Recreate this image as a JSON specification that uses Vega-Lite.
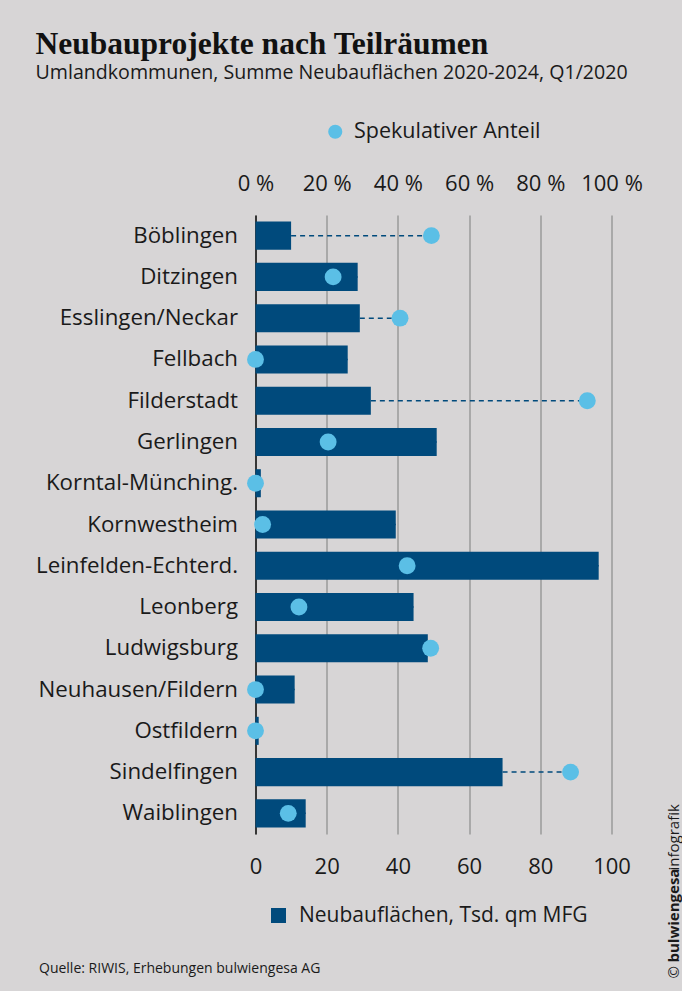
{
  "$schema": "https://vega.github.io/schema/vega-lite/v6.json",
  "background": "#d7d5d6",
  "padding": {"left": 35.5, "top": 28, "right": 0, "bottom": 13},
  "width": 356,
  "height": 619,
  "title": {
    "text": "Neubauprojekte nach Teilräumen",
    "subtitle": "Umlandkommunen, Summe Neubauflächen 2020-2024, Q1/2020",
    "anchor": "start",
    "frame": "bounds",
    "font": "Liberation Serif",
    "fontSize": 31.5,
    "fontWeight": "bold",
    "color": "#111111",
    "subtitleFont": "Open Sans",
    "subtitleFontSize": 19.6,
    "subtitleColor": "#1a1a1a",
    "subtitlePadding": 4,
    "offset": 38
  },
  "data": {
    "values": [
      {"name": "Böblingen", "area": 10.0, "spec": 49.4},
      {"name": "Ditzingen", "area": 28.7, "spec": 21.8},
      {"name": "Esslingen/Neckar", "area": 29.3, "spec": 40.6},
      {"name": "Fellbach", "area": 25.9, "spec": 0},
      {"name": "Filderstadt", "area": 32.4, "spec": 93.2},
      {"name": "Gerlingen", "area": 50.9, "spec": 20.4},
      {"name": "Korntal-Münching.", "area": 1.5, "spec": 0},
      {"name": "Kornwestheim", "area": 39.4, "spec": 2.0},
      {"name": "Leinfelden-Echterd.", "area": 96.4, "spec": 42.6},
      {"name": "Leonberg", "area": 44.4, "spec": 12.2},
      {"name": "Ludwigsburg", "area": 48.4, "spec": 49.2},
      {"name": "Neuhausen/Fildern", "area": 11.0, "spec": 0},
      {"name": "Ostfildern", "area": 0.9, "spec": 0},
      {"name": "Sindelfingen", "area": 69.4, "spec": 88.5},
      {"name": "Waiblingen", "area": 14.1, "spec": 9.2}
    ]
  },
  "layer": [
    {
      "mark": {"type": "rule", "strokeDash": [5, 4], "strokeWidth": 1.5, "color": "#004a7c"},
      "encoding": {
        "y": {
          "field": "name", "type": "nominal", "sort": null,
          "axis": {
            "orient": "right", "labels": false, "ticks": false, "domain": false, "grid": false,
            "title": "bulwiengesa",
            "titleFontSize": 15, "titleFontWeight": "bold", "titleColor": "#1a1a1a",
            "titleAngle": -90, "titleAlign": "left", "titleBaseline": "middle",
            "titleAnchor": null, "titleX": 62, "titleY": 747
          }
        },
        "x": {
          "field": "area", "type": "quantitative", "scale": {"domain": [0, 100], "nice": false},
          "axis": {
            "orient": "bottom", "labels": false, "ticks": false, "domain": false, "grid": false,
            "title": "infografik",
            "titleFontSize": 15, "titleFontWeight": "normal", "titleColor": "#1a1a1a",
            "titleAngle": -90, "titleAlign": "left", "titleBaseline": "middle",
            "titleAnchor": null, "titleX": 418, "titleY": 36
          }
        },
        "x2": {"field": "spec"}
      }
    },
    {
      "mark": {"type": "bar", "opacity": 1},
      "encoding": {
        "y": {
          "field": "name", "type": "nominal", "sort": null,
          "scale": {"paddingInner": 0.32, "paddingOuter": 0.16},
          "axis": {
            "orient": "left", "title": null, "ticks": false,
            "domain": true, "domainColor": "#111111", "domainWidth": 1.5,
            "labelFontSize": 22.3, "labelPadding": 18, "labelColor": "#1a1a1a", "labelLimit": 300
          }
        },
        "x": {
          "field": "area", "type": "quantitative",
          "scale": {"domain": [0, 100], "nice": false},
          "axis": {
            "orient": "bottom", "values": [0, 20, 40, 60, 80, 100],
            "grid": true, "gridColor": "#9a9a9a", "gridWidth": 1.5,
            "domain": false, "ticks": false,
            "labelFontSize": 22, "labelPadding": 22, "labelColor": "#1a1a1a",
            "labelFlush": false,
            "title": "Quelle: RIWIS, Erhebungen bulwiengesa AG",
            "titleFontSize": 14, "titleFontWeight": "normal", "titleColor": "#1a1a1a",
            "titleAnchor": null, "titleAlign": "left", "titleBaseline": "middle",
            "titleX": -217, "titleY": 134
          }
        },
        "color": {
          "datum": "Neubauflächen, Tsd. qm MFG",
          "scale": {"range": ["#004a7c"]},
          "legend": {
            "orient": "none", "legendX": 12.5, "legendY": 690, "title": null,
            "symbolType": "square", "symbolSize": 225, "labelFontSize": 21,
            "labelColor": "#1a1a1a", "padding": 0, "labelOffset": 10, "symbolOpacity": 1,
            "labelLimit": 500
          }
        }
      }
    },
    {
      "mark": {"type": "point", "filled": true, "size": 285, "opacity": 1},
      "encoding": {
        "y": {
          "field": "name", "type": "nominal", "sort": null,
          "axis": {
            "orient": "right", "labels": false, "ticks": false, "domain": false, "grid": false,
            "title": "©",
            "titleFontSize": 15, "titleFontWeight": "normal", "titleColor": "#1a1a1a",
            "titleAngle": -90, "titleAlign": "left", "titleBaseline": "middle",
            "titleAnchor": null, "titleX": 62, "titleY": 763
          }
        },
        "x": {
          "field": "spec", "type": "quantitative",
          "scale": {"domain": [0, 100], "nice": false},
          "axis": {
            "orient": "top", "values": [0, 20, 40, 60, 80, 100],
            "labelExpr": "datum.value + ' %'",
            "grid": false, "domain": false, "ticks": false,
            "labelFontSize": 22, "labelPadding": 20, "labelColor": "#1a1a1a",
            "labelFlush": false, "title": null
          }
        },
        "color": {
          "datum": "Spekulativer Anteil",
          "scale": {"range": ["#5bbfe6"]},
          "legend": {
            "orient": "none", "legendX": 69, "legendY": -94, "title": null,
            "symbolType": "circle", "symbolSize": 200, "labelFontSize": 21.5,
            "labelColor": "#1a1a1a", "padding": 0, "labelOffset": 8, "symbolOpacity": 1,
            "labelLimit": 500
          }
        }
      }
    }
  ],
  "resolve": {
    "scale": {"x": "independent", "color": "independent"},
    "axis": {"y": "independent", "x": "independent"}
  },
  "config": {
    "font": "Open Sans",
    "view": {"stroke": null}
  }
}
